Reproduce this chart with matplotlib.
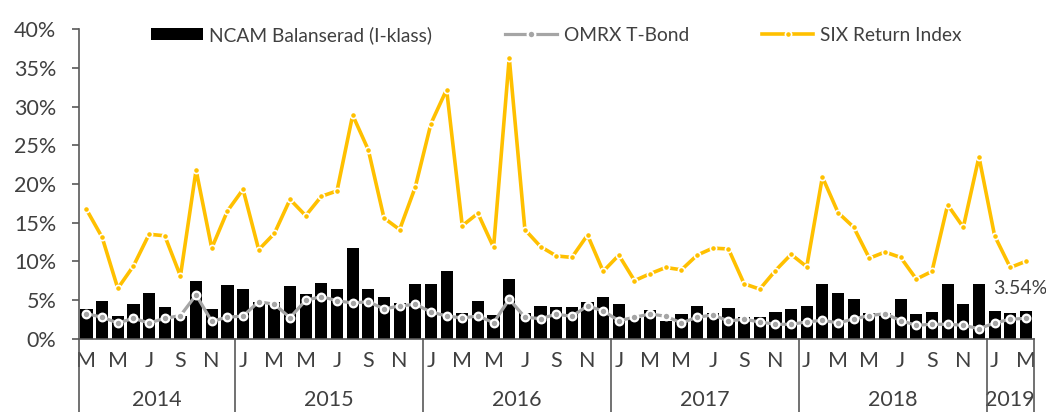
import matplotlib
matplotlib.use("Agg")
import matplotlib.pyplot as plt
import matplotlib.transforms as mtransforms
from matplotlib.patches import Patch
from matplotlib.lines import Line2D
import numpy as np

plt.rcParams['font.family'] = ['Lato', 'DejaVu Sans']

# Monthly data: Mar 2014 .. Mar 2019
years = ["2014", "2015", "2016", "2017", "2018", "2019"]
months_per_year = [10, 12, 12, 12, 12, 3]
first_month = [3, 1, 1, 1, 1, 1]
month_initials = ["J", "F", "M", "A", "M", "J", "J", "A", "S", "O", "N", "D"]

ncam = [3.88, 4.91, 2.90, 4.53, 5.91, 4.06, 2.95, 7.42, 3.88, 6.98,
        6.46, 4.80, 4.78, 6.81, 5.82, 7.24, 6.38, 11.77, 6.38, 5.35, 4.57, 7.11,
        7.11, 8.71, 3.37, 4.83, 3.02, 7.67, 3.37, 4.23, 4.14, 4.14, 4.78, 5.35,
        4.49, 2.70, 3.71, 2.33, 3.15, 4.23, 3.37, 3.93, 2.77, 2.77, 3.49, 3.80,
        4.23, 7.11, 5.87, 5.09, 3.37, 3.37, 5.09, 3.19, 3.49, 7.11, 4.53, 7.03,
        3.54, 3.32, 3.54]

omrx = [3.23, 2.77, 2.03, 2.63, 2.03, 2.63, 2.98, 5.65, 2.25, 2.77,
        2.93, 4.78, 4.44, 2.72, 4.96, 5.43, 4.91, 4.61, 4.78, 3.84, 4.23, 4.44,
        3.45, 2.93, 2.68, 2.93, 2.07, 5.09, 2.77, 2.59, 3.15, 2.90, 4.23, 3.58,
        2.33, 2.77, 3.19, 2.90, 2.03, 2.77, 3.06, 2.29, 2.51, 2.16, 1.86, 1.86,
        2.16, 2.38, 2.03, 2.55, 2.98, 3.23, 2.33, 1.73, 1.86, 1.86, 1.73, 1.29,
        2.03, 2.51, 2.63]

six = [16.7, 13.1, 6.5, 9.4, 13.5, 13.3, 8.1, 21.8, 11.7, 16.5,
       19.3, 11.5, 13.6, 18.0, 15.9, 18.4, 19.1, 28.9, 24.4, 15.6, 14.1, 19.6,
       27.8, 32.2, 14.6, 16.2, 11.8, 36.3, 14.1, 11.9, 10.7, 10.5, 13.4, 8.7,
       10.8, 7.5, 8.4, 9.2, 8.9, 10.8, 11.7, 11.6, 7.1, 6.4, 8.8, 10.9,
       9.3, 20.9, 16.3, 14.4, 10.4, 11.2, 10.5, 7.7, 8.7, 17.3, 14.4, 23.5,
       13.3, 9.2, 10.0]

last_label = "3.54%"
series_names = ["NCAM Balanserad (I-klass)", "OMRX T-Bond", "SIX Return Index"]

YELLOW = "#FFC000"
GREY = "#A5A5A5"
TEXT = "#404040"
AXC = "#595959"

fig = plt.figure(figsize=(10.46, 4.12), dpi=100)
ax = fig.add_axes([0.0752, 0.178, 0.9131, 0.751])

n = len(ncam)
x = np.arange(n)
ax.bar(x, ncam, width=0.78, color="black", zorder=2)
ax.plot(x, omrx, color=GREY, lw=2.3, marker="o", ms=5.5, mfc=GREY, mec="white",
        mew=1.6, zorder=3)
ax.plot(x, six, color=YELLOW, lw=2.6, marker="o", ms=4.5, mfc=YELLOW, mec="white",
        mew=1.2, zorder=4)

ax.set_xlim(-0.5, n - 0.5)
ax.set_ylim(0, 40)
ax.set_yticks(np.arange(0, 41, 5))
ax.set_yticklabels([f"{v}%" for v in range(0, 41, 5)], fontsize=15.5, color=TEXT)
ax.tick_params(axis="y", length=5, width=1.2, color=AXC, pad=11)

# month labels (every other month)
labels = []
for fm, cnt in zip(first_month, months_per_year):
    for k in range(cnt):
        labels.append(month_initials[(fm - 1 + k) % 12])
ticks = list(range(0, n, 2))
ax.set_xticks(ticks)
ax.set_xticklabels([labels[t] for t in ticks], fontsize=15.5, color=TEXT)
ax.tick_params(axis="x", length=0, pad=9)

for s in ["top", "right"]:
    ax.spines[s].set_visible(False)
ax.spines["left"].set_color(AXC)
ax.spines["bottom"].set_color(AXC)
ax.spines["left"].set_linewidth(1.2)
ax.spines["bottom"].set_linewidth(1.2)

# year separators and year labels
trans = mtransforms.blended_transform_factory(ax.transData, ax.transAxes)
bounds = [0]
for cnt in months_per_year:
    bounds.append(bounds[-1] + cnt)
for b in bounds:
    ax.plot([b - 0.5, b - 0.5], [0, -0.25], transform=trans, color=AXC, lw=1.2,
            clip_on=False, zorder=5)
for y, b0, b1 in zip(years, bounds[:-1], bounds[1:]):
    ax.text((b0 + b1 - 1) / 2, -0.198, y, transform=trans, ha="center", va="center",
            fontsize=15.5, color=TEXT)

# data label for last bar
ax.annotate(last_label, xy=(n - 1, ncam[-1]), xytext=(-6, 23), textcoords="offset pixels",
            ha="center", va="center", fontsize=14, color=TEXT)

handles = [Patch(facecolor="black"),
           Line2D([], [], color=GREY, lw=2.3, marker="o", ms=5.5, mfc=GREY, mec="white", mew=1.6),
           Line2D([], [], color=YELLOW, lw=2.6, marker="o", ms=4.5, mfc=YELLOW, mec="white", mew=1.2)]
leg = ax.legend(handles, series_names, loc="center", bbox_to_anchor=(0.5, 0.982),
                ncol=3, frameon=False, fontsize=13.8, handlelength=2.7, handleheight=0.55,
                handletextpad=0.35, columnspacing=3.8, borderaxespad=0)
for t in leg.get_texts():
    t.set_color(TEXT)

fig.savefig("out.png", dpi=100)
